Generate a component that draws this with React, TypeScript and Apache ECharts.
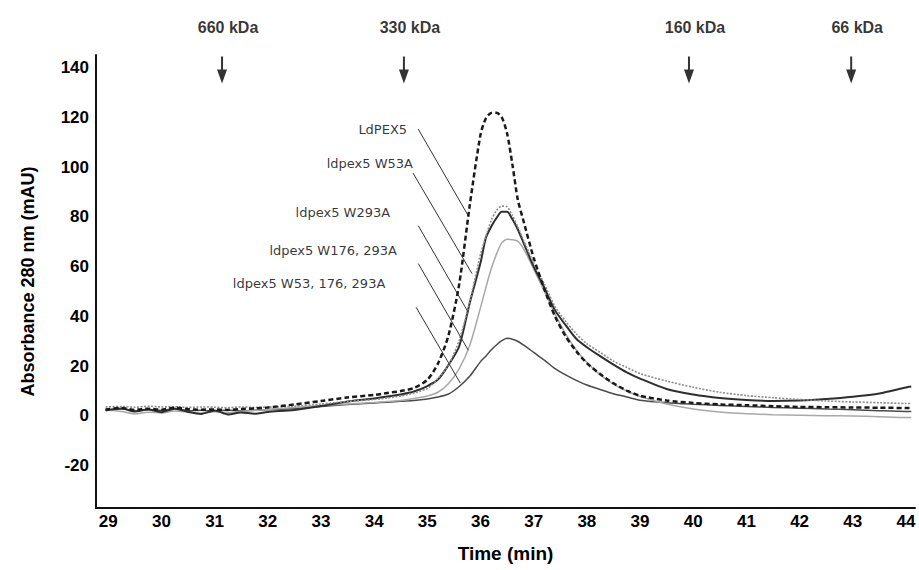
import React, { useEffect, useRef } from "react";
import * as echarts from "echarts";

// ---- data ----
const TIME = [28.95, 29.25, 29.5, 29.75, 30, 30.25, 30.5, 30.75, 31, 31.25, 31.5, 31.75, 32, 32.5, 33, 33.5, 34, 34.25, 34.5, 34.75, 35, 35.2, 35.4, 35.6, 35.8, 36, 36.1, 36.2, 36.3, 36.4, 36.5, 36.6, 36.7, 36.8, 37, 37.2, 37.4, 37.6, 37.8, 38, 38.25, 38.5, 38.75, 39, 39.5, 40, 40.5, 41, 41.5, 42, 42.5, 43, 43.5, 44, 44.1];

const LDPEX5 = [2.6, 3.2, 2.4, 2.9, 2.5, 3.3, 2.7, 2.5, 2.6, 2.4, 2.8, 3.0, 3.4, 4.6, 6.0, 7.4, 8.4, 9.2, 10.0, 11.2, 14.5, 21, 32.5, 53, 85, 113, 119.5, 121.7, 121.8, 120, 113.5, 101, 87, 79, 63.5, 51, 40, 32, 26, 21.2, 16.8, 13.1, 10.2, 8.1, 6.2, 5.2, 4.6, 4.3, 3.9, 3.6, 3.5, 3.4, 3.3, 3.2, 3.2];

const W53A = [3.6, 3.8, 3.5, 3.9, 3.6, 3.7, 3.4, 3.6, 3.5, 3.3, 3.6, 3.4, 3.5, 3.9, 4.8, 5.8, 6.6, 7.2, 8.0, 9.2, 11, 15, 20.5, 30.5, 46, 65, 72, 78.5, 82.5, 84.3, 84, 80.5, 76, 71, 61.5, 53, 44, 38, 33, 29, 25.5, 22, 19.5, 17, 14, 11.5, 9.5, 8.2, 7.3, 6.6, 6.0, 5.6, 5.3, 5.0, 5.0];

const W293A = [2.2, 3.0, 1.8, 2.6, 1.5, 2.9, 1.6, 0.8, 2.2, 0.6, 1.4, 0.9, 1.6, 2.4, 4.0, 5.8, 7.0, 7.8, 8.6, 9.8, 12, 14.6, 20.5, 28, 45.6, 61.5, 71.5, 76, 79.5, 82, 82, 79, 75, 70, 60, 51.5, 42.5, 36.5, 31, 27.6, 24, 20.6, 17.5, 15, 10.8, 8.6, 7.2, 6.4, 6.0, 6.2, 6.8, 7.7, 9.0, 11.4, 11.8];

const W176_293A = [2.4, 1.8, 0.8, 1.5, 1.2, 2.0, 1.6, 1.1, 1.7, 1.3, 1.9, 2.2, 2.6, 3.4, 4.2, 4.8, 5.4, 5.8, 6.2, 7.0, 8.0, 9.5, 13, 19, 28.5, 43.5, 51.5, 59, 65, 69.5, 71, 70.8, 70.2, 67.5, 59, 50, 41, 33, 26.5, 21.5, 16.5, 12.8, 10, 7.8, 4.8, 2.8, 1.6, 0.9, 0.5, 0.3, 0.1, 0, -0.3, -0.6, -0.6];

const W53_176_293A = [2.4, 2.9, 2.0, 2.6, 2.2, 3.0, 2.1, 2.3, 1.9, 2.4, 2.0, 2.3, 2.5, 3.0, 3.8, 4.6, 5.2, 5.5, 5.9, 6.2, 6.8, 7.6, 8.8, 11.8, 16, 21.8, 24, 26.5, 28.5, 30.2, 31.2, 30.8, 30, 28.6, 25.5, 22.4, 19, 16.5, 14.3, 12.4, 10.6, 8.9, 7.6, 6.3, 5.3, 4.7, 4.2, 3.8, 3.4, 3.1, 2.8, 2.5, 2.1, 1.8, 1.8];

const SERIES_NAMES = ["LdPEX5", "ldpex5 W53A", "ldpex5 W293A", "ldpex5 W176, 293A", "ldpex5 W53, 176, 293A"];

const X_TICKS = [29, 30, 31, 32, 33, 34, 35, 36, 37, 38, 39, 40, 41, 42, 43, 44];
const Y_TICKS = [-20, 0, 20, 40, 60, 80, 100, 120, 140];

// molecular-weight markers (elution time, label)
const MARKER_TIMES = [31.14, 34.56, 39.92, 42.97];
const MARKER_LABELS = ["660 kDa", "330 kDa", "160 kDa", "66 kDa"];

// annotation label anchors (time, absorbance) and leader lines in data units
const LABEL_ANCHOR_T = [34.62, 34.73, 34.3, 34.43, 34.21];
const LABEL_ANCHOR_V = [115.2, 101.6, 81.6, 66.4, 53.2];
const LEADER_START = [[34.83, 115.2], [34.73, 97.6], [34.83, 76.4], [34.83, 61.2], [34.79, 43.6]];
const LEADER_END = [[35.77, 80.4], [35.84, 57.2], [35.77, 41.6], [35.77, 26.4], [35.62, 13.2]];

const FONT = '"Liberation Sans", Arial, sans-serif';

export default function App() {
  const ref = useRef<HTMLDivElement>(null);

  useEffect(() => {
    document.body.style.margin = "0";
    if (!ref.current) return;
    const chart = echarts.init(ref.current, null, { renderer: "svg" });

    const toPairs = (arr: number[]) => TIME.map((t, i) => [t, arr[i]]);

    const styles = [
      { color: "#1a1a1a", width: 2.5, type: [5, 3] as any },
      { color: "#8c8c8c", width: 1.6, type: [2, 1.5] as any },
      { color: "#2e2e2e", width: 2, type: "solid" as any },
      { color: "#a8a8a8", width: 1.5, type: "solid" as any },
      { color: "#4a4a4a", width: 1.5, type: "solid" as any },
    ];
    const datasets = [LDPEX5, W53A, W293A, W176_293A, W53_176_293A];

    const lineSeries = datasets.map((d, i) => ({
      name: SERIES_NAMES[i],
      type: "line",
      data: toPairs(d),
      showSymbol: false,
      symbol: "none",
      smooth: 0.25,
      lineStyle: styles[i],
      z: 5 - i,
    }));

    const option: any = {
      animation: false,
      backgroundColor: "#ffffff",
      grid: { left: 96, right: 4, top: 55, bottom: 62 },
      xAxis: {
        type: "value",
        min: 28.77,
        max: 44.17,
        name: "Time (min)",
        nameLocation: "middle",
        nameGap: 36,
        nameTextStyle: { fontFamily: FONT, fontSize: 19, fontWeight: "bold", color: "#000" },
        axisLine: { show: true, onZero: false, lineStyle: { color: "#111", width: 2 } },
        axisTick: { show: false },
        splitLine: { show: false },
        axisLabel: {
          customValues: X_TICKS,
          fontFamily: FONT,
          fontSize: 17,
          fontWeight: "bold",
          color: "#000",
          margin: 5,
        },
      },
      yAxis: {
        type: "value",
        min: -37,
        max: 145,
        name: "Absorbance 280 nm (mAU)",
        nameLocation: "middle",
        nameGap: 59,
        nameTextStyle: { fontFamily: FONT, fontSize: 18, fontWeight: "bold", color: "#000" },
        axisLine: { show: true, onZero: false, lineStyle: { color: "#111", width: 2 } },
        axisTick: { show: false },
        splitLine: { show: false },
        axisLabel: {
          customValues: Y_TICKS,
          fontFamily: FONT,
          fontSize: 17,
          fontWeight: "bold",
          color: "#000",
          margin: 7,
        },
      },
      series: [
        ...lineSeries,
        {
          name: "markers",
          type: "scatter",
          clip: false,
          symbol: "path://M4,0L6,0L6,13L10,13L5,27L0,13L4,13Z",
          symbolSize: [10, 27],
          itemStyle: { color: "#000" },
          data: MARKER_TIMES.map((t) => [t, 139]),
          label: {
            show: true,
            position: "top",
            distance: 21,
            offset: [6, 0],
            formatter: (p: any) => MARKER_LABELS[p.dataIndex],
            fontFamily: FONT,
            fontSize: 16,
            fontWeight: "bold",
            color: "#000",
          },
          z: 10,
        },
        {
          name: "annotations",
          type: "scatter",
          clip: false,
          symbolSize: 0,
          itemStyle: { color: "transparent" },
          data: LABEL_ANCHOR_T.map((t, i) => [t, LABEL_ANCHOR_V[i]]),
          label: {
            show: true,
            position: "left",
            distance: 0,
            formatter: (p: any) => SERIES_NAMES[p.dataIndex],
            fontFamily: '"DejaVu Sans", sans-serif',
            fontSize: 13,
            fontWeight: 500,
            color: "#000",
          },
          markLine: {
            silent: true,
            symbol: ["none", "none"],
            label: { show: false },
            lineStyle: { color: "#333", width: 1, type: "solid" },
            data: LEADER_START.map((s, i) => [{ coord: s }, { coord: LEADER_END[i] }]),
          },
          z: 10,
        },
      ],
    };

    chart.setOption(option);
    return () => chart.dispose();
  }, []);

  return <div ref={ref} style={{ width: 919, height: 570 }} />;
}
